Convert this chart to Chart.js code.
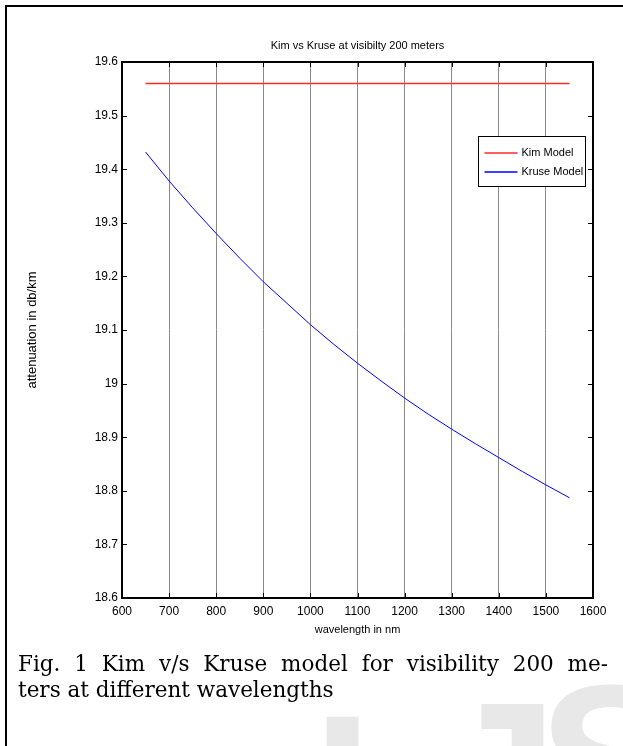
<!DOCTYPE html>
<html>
<head>
<meta charset="utf-8">
<script src="https://cdn.jsdelivr.net/npm/chart.js@4/dist/chart.umd.min.js"></script>
<style>
html,body{margin:0;padding:0;background:#fff;}
body{width:623px;height:746px;position:relative;overflow:hidden;}
#frame{position:absolute;left:5px;top:5px;width:700px;height:800px;border-left:2px solid #000;border-top:2px solid #000;}
#wm{position:absolute;left:0;top:0;width:623px;height:746px;overflow:hidden;}
#wm span{position:absolute;font-family:"Liberation Sans",Arial,sans-serif;font-weight:bold;font-size:220px;line-height:220px;color:#e8e8e8;}
#wrap{position:absolute;left:0;top:0;width:623px;height:660px;}
#cap{position:absolute;left:18px;top:651px;width:590px;font-family:"DejaVu Serif","Liberation Serif",serif;font-size:21.5px;line-height:26px;color:#000;}
#cap .l1{text-align:justify;text-align-last:justify;}
</style>
</head>
<body>
<div id="wm"><span style="left:312px;top:683px">I</span><span style="left:436px;top:670px">J</span><span style="left:538px;top:653px">S</span></div>
<div id="frame"></div>
<div id="wrap"><canvas id="c" width="623" height="660"></canvas></div>
<div id="cap"><div class="l1">Fig. 1 Kim v/s Kruse model for visibility 200 me-</div><div>ters at different wavelengths</div></div>
<script>
const wavelengths = [650,700,750,800,850,900,950,1000,1050,1100,1150,1200,1250,1300,1350,1400,1450,1500,1550];
const kimValues   = [19.56,19.56,19.56,19.56,19.56,19.56,19.56,19.56,19.56,19.56,19.56,19.56,19.56,19.56,19.56,19.56,19.56,19.56,19.56];
const kruseValues = [19.432,19.378,19.328,19.280,19.234,19.190,19.150,19.110,19.073,19.038,19.005,18.973,18.943,18.915,18.888,18.862,18.836,18.811,18.787];
const xTickValues = [600,700,800,900,1000,1100,1200,1300,1400,1500,1600];
const yTickValues = [18.6,18.7,18.8,18.9,19.0,19.1,19.2,19.3,19.4,19.5,19.6];
const seriesNames = ['Kim Model','Kruse Model'];
const chartTitle = 'Kim vs Kruse at visibilty 200 meters';
const xTitle = 'wavelength in nm';
const yTitle = 'attenuation in db/km';

const FONT = '"Liberation Sans Narrow","Arial Narrow","Liberation Sans",Arial,sans-serif';

const toPts = (xs, ys) => xs.map((x, i) => ({x: x, y: ys[i]}));

const inwardTicks = {
  id: 'inwardTicks',
  afterDatasetsDraw(chart) {
    const {ctx, chartArea: a, scales} = chart;
    const xs = scales.x, ys = scales.y;
    ctx.save();
    ctx.strokeStyle = '#000';
    ctx.lineWidth = 1;
    const L = 5;
    xTickValues.forEach(v => {
      const px = Math.round(xs.getPixelForValue(v)) + 0.5;
      ctx.beginPath();
      ctx.moveTo(px, a.bottom); ctx.lineTo(px, a.bottom - L);
      ctx.moveTo(px, a.top); ctx.lineTo(px, a.top + L);
      ctx.stroke();
    });
    yTickValues.forEach(v => {
      const py = Math.round(ys.getPixelForValue(v)) + 0.5;
      ctx.beginPath();
      ctx.moveTo(a.left, py); ctx.lineTo(a.left + L, py);
      ctx.moveTo(a.right, py); ctx.lineTo(a.right - L, py);
      ctx.stroke();
    });
    // legend
    const ds = chart.data.datasets;
    const bw = 107, bh = 50;
    const bx = Math.round(a.right - 8 - bw) + 0.5;
    const by = Math.round(a.top + 74) + 0.5;
    ctx.fillStyle = '#fff';
    ctx.fillRect(bx, by, bw, bh);
    ctx.strokeStyle = '#000';
    ctx.lineWidth = 1;
    ctx.strokeRect(bx, by, bw, bh);
    ctx.font = '11px ' + FONT;
    ctx.textBaseline = 'middle';
    ctx.textAlign = 'left';
    ds.forEach((d, i) => {
      const yy = Math.round(by + 16 + i * 19);
      ctx.strokeStyle = d.borderColor;
      ctx.lineWidth = 1.5;
      ctx.beginPath(); ctx.moveTo(bx + 6, yy); ctx.lineTo(bx + 39, yy); ctx.stroke();
      ctx.fillStyle = '#000';
      ctx.fillText(d.label, bx + 43, yy);
    });
    ctx.restore();
  }
};

new Chart(document.getElementById('c'), {
  type: 'line',
  data: {
    datasets: [
      {label: seriesNames[0], data: toPts(wavelengths, kimValues), borderColor: '#ff2a2a', borderWidth: 1.6, pointRadius: 0, tension: 0, fill: false},
      {label: seriesNames[1], data: toPts(wavelengths, kruseValues), borderColor: '#0000ff', borderWidth: 1, pointRadius: 0, tension: 0, fill: false}
    ]
  },
  options: {
    responsive: false,
    animation: false,
    devicePixelRatio: 1,
    layout: {padding: 0},
    plugins: {legend: {display: false}, title: {display: false}, tooltip: {enabled: false}},
    scales: {
      x: {
        type: 'linear', position: 'bottom', min: 600, max: 1600,
        afterBuildTicks: s => { s.ticks = xTickValues.map(v => ({value: v})); },
        afterFit: s => { s.height = 62; },
        grid: {
          drawTicks: false, lineWidth: 1,
          color: c => (c.tick && (c.tick.value === 600 || c.tick.value === 1600)) ? 'rgba(0,0,0,0)' : '#8a8a8a'
        },
        border: {display: true, color: '#000', width: 2},
        ticks: {color: '#000', font: {family: FONT, size: 12}, padding: 6, maxRotation: 0, autoSkip: false, callback: v => String(v)},
        title: {display: true, text: xTitle, color: '#000', font: {family: FONT, size: 11}, padding: {top: 0, bottom: 23}}
      },
      x2: {
        type: 'linear', position: 'top', min: 600, max: 1600,
        afterFit: s => { s.height = 62; },
        grid: {display: false, drawTicks: false},
        border: {display: true, color: '#000', width: 2},
        ticks: {display: false},
        title: {display: true, text: chartTitle, color: '#000', font: {family: FONT, size: 11}, padding: {top: 39, bottom: 0}}
      },
      y: {
        type: 'linear', position: 'left', min: 18.6, max: 19.6,
        afterBuildTicks: s => { s.ticks = yTickValues.map(v => ({value: v})); },
        afterFit: s => { s.width = 122; },
        grid: {display: false, drawTicks: false},
        border: {display: true, color: '#000', width: 2},
        ticks: {color: '#000', font: {family: FONT, size: 12}, padding: 4, callback: v => String(Math.round(v * 10) / 10)},
        title: {display: true, text: yTitle, color: '#000', font: {family: FONT, size: 13}, padding: {top: 25, bottom: 0}}
      },
      y2: {
        type: 'linear', position: 'right', min: 18.6, max: 19.6,
        afterFit: s => { s.width = 30; },
        grid: {display: false, drawTicks: false},
        border: {display: true, color: '#000', width: 2},
        ticks: {display: false}
      }
    }
  },
  plugins: [inwardTicks]
});
</script>
</body>
</html>
